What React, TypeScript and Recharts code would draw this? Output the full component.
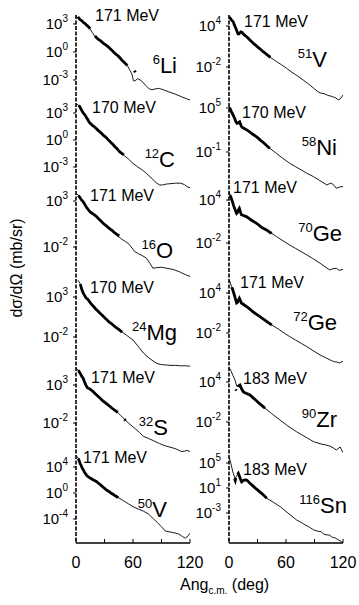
import React from 'react';
import { LineChart, Line, XAxis, YAxis } from 'recharts';

type P = [number, number];

// Each pair: [angle c.m. (deg), log10 of dσ/dΩ (mb/sr)]
const li6Theory: P[] = [[0,3.8],[3,3.6],[6,3.35],[10,3.0],[14,2.6],[17,2.1],[20,1.65],[24,1.3],[27,1.1],[31,0.75],[34,0.55],[38,0.15],[41,-0.15],[45,-0.5],[48,-0.85],[51,-1.15],[54,-1.45],[57,-2.0],[59,-2.4],[60.5,-3.1],[62,-3.1],[65,-2.85],[69,-3.1],[73,-3.55],[77,-3.95],[80,-4.05],[84,-3.95],[87,-3.9],[92,-4.05],[97,-4.25],[104,-4.5],[111,-4.8],[116,-5.0],[120,-5.15]];
const li6Exp: P[][] = [
  [[2,3.75],[3,3.62],[4,3.5],[5,3.42],[6,3.35],[7,3.25],[8,3.15],[9,3.08],[10,3.0],[11,2.9],[12,2.8],[13,2.7],[14,2.6],[15,2.5]],
  [[20,1.7],[21,1.6],[22,1.5],[23,1.4],[24,1.32],[26,1.2],[28,1.0],[30,0.85],[32,0.7],[34,0.55],[36,0.35],[38,0.15],[40,-0.05],[42,-0.25],[44,-0.4],[46,-0.6],[48,-0.85],[50,-1.05],[52,-1.25],[54,-1.45]],
  [[61.5,-2.0],[62.5,-2.2]],
];

const c12Theory: P[] = [[0,4.0],[2.4,3.89],[5,3.5],[9.5,2.78],[12,2.3],[14.7,1.86],[20,1.4],[25,0.92],[30,0.4],[36,-0.19],[41,-0.75],[46,-1.3],[50,-1.67],[55,-2.1],[60,-2.6],[65,-3.0],[70,-3.35],[74,-3.7],[80,-4.3],[85,-4.8],[88,-5.0],[91,-5.0],[95,-4.9],[100,-4.85],[105,-4.8],[110,-4.8],[114,-4.95],[117,-5.2],[120,-5.3]];
const c12Exp: P[][] = [
  [[3,3.85],[4,3.7],[5,3.5],[6,3.3],[7,3.1],[8,2.95],[9.5,2.78],[11,2.5],[12.5,2.25],[14,1.95],[15.5,1.8],[17,1.65],[19,1.5],[21,1.3],[23,1.1],[25,0.92],[27,0.72],[29,0.5],[31,0.35],[33,0.12],[35,-0.1],[37,-0.3],[39,-0.5],[41,-0.75],[43,-0.95],[45,-1.2],[47,-1.4],[49,-1.55],[50.5,-1.65]],
];

const o16Theory: P[] = [[0,3.8],[2.4,3.65],[5,3.3],[7.7,2.92],[10,2.5],[13,2.02],[16,1.75],[20,1.48],[25,0.95],[30.5,0.39],[35,0.0],[40,-0.45],[44.5,-0.85],[48,-1.15],[52,-1.4],[55,-1.6],[58,-2.0],[62,-2.5],[66,-2.75],[70,-2.95],[74,-3.2],[78,-3.8],[81,-4.3],[85,-4.25],[90,-4.2],[95,-4.3],[100,-4.4],[104,-4.5],[110,-4.75],[115,-5.0],[120,-5.2]];
const o16Exp: P[][] = [
  [[2.5,3.6],[4,3.4],[5.5,3.15],[7,3.0],[8.5,2.75],[10,2.5],[11.5,2.25],[13,2.05],[14.5,1.85],[16,1.72],[18,1.6],[20,1.45],[22,1.25],[24,1.05],[26,0.85],[28,0.65],[30,0.45],[32,0.3],[34,0.1],[36,-0.05],[38,-0.2],[40,-0.4],[42,-0.55],[44,-0.7],[45.5,-0.8]],
];

const mg24Theory: P[] = [[2,5.1],[4.2,4.7],[6,3.9],[7.7,3.46],[10,3.0],[13,2.63],[17,2.0],[21.8,1.38],[27,0.75],[32.3,0.13],[37,-0.3],[42,-0.75],[48,-1.33],[54,-1.85],[60,-2.38],[65,-3.1],[71,-4.0],[76,-4.55],[80,-4.9],[85,-5.3],[90,-5.45],[95,-5.5],[100,-5.55],[105,-5.55],[110,-5.6],[115,-5.6],[120,-5.65]];
const mg24Exp: P[][] = [
  [[4.5,4.6],[5.5,4.2],[6.5,3.8],[7.5,3.5],[9,3.2],[10.5,2.9],[12,2.75],[13.5,2.55],[15,2.3],[17,2.0],[19,1.75],[21,1.48],[23,1.25],[25,1.0],[27,0.78],[29,0.55],[31,0.3],[33,0.1],[35,-0.15],[37,-0.3],[39,-0.5],[41,-0.7],[43,-0.88],[45,-1.05],[47,-1.25],[48.5,-1.38]],
];

const s32Theory: P[] = [[0,5.2],[2.4,4.97],[5,4.4],[7.7,3.88],[11,2.9],[13,2.6],[16.5,2.34],[20,1.9],[23.5,1.46],[28,0.95],[34,0.37],[38,-0.05],[43,-0.51],[47,-1.0],[51.6,-1.55],[56,-2.1],[62,-2.7],[67,-3.25],[71,-3.75],[76,-4.0],[82,-4.35],[88,-4.7],[94,-5.0],[100,-5.2],[104,-5.35],[108,-5.55],[111,-5.75],[114,-5.7],[117,-5.6],[120,-5.75]];
const s32Exp: P[][] = [
  [[2.5,4.95],[3.5,4.7],[5,4.4],[6,4.15],[7.5,3.9],[9,3.4],[10.5,2.95],[12,2.65],[13.5,2.55],[15,2.45],[16.5,2.3],[18,2.15],[20,1.9],[22,1.65],[24,1.42],[26,1.2],[28,0.95],[30,0.75],[32,0.55],[34,0.37],[36,0.15],[38,-0.05],[40,-0.25],[42,-0.42],[44,-0.6]],
  [[51,-1.5],[52.2,-1.65]],
];

const v50Theory: P[] = [[0,5.8],[2.4,5.34],[5,4.4],[7.7,3.54],[10,3.0],[13,2.51],[17,2.1],[22,1.74],[27,1.1],[32,0.46],[37,-0.05],[43,-0.57],[50,-1.2],[55,-1.65],[60,-2.1],[66,-2.5],[71,-2.8],[76,-3.2],[81,-3.9],[86,-4.6],[90,-5.2],[94,-5.85],[99,-6.0],[104,-6.15],[108,-6.3],[112,-6.7],[115,-6.95],[118,-6.6],[120,-6.2]];
const v50Exp: P[][] = [
  [[2.5,5.3],[3.5,4.9],[4.5,4.5],[5.5,4.2],[6.5,3.85],[7.7,3.55],[9,3.2],[10.5,2.85],[12,2.6],[13.5,2.45],[15,2.3],[17,2.12],[19,1.95],[21,1.8],[23,1.6],[25,1.35],[27,1.1],[29,0.85],[31,0.6],[33,0.38],[35,0.2],[37,-0.05],[39,-0.2],[41,-0.4],[43,-0.58],[44.5,-0.72]],
];

const v51Theory: P[] = [[0,5.4],[2,5.0],[4.5,4.6],[6.5,3.9],[8,3.4],[9.8,2.7],[11.5,3.0],[13.3,3.15],[15.5,2.8],[18.6,2.43],[22,1.95],[25.6,1.46],[30,0.95],[36,0.24],[43,-0.55],[50,-1.2],[55,-1.65],[60.7,-2.2],[66,-2.75],[72,-3.3],[78,-3.9],[84,-4.5],[89,-5.1],[93,-5.55],[96,-5.8],[100,-5.9],[104,-6.15],[108,-6.3],[112,-6.5],[115,-6.8],[117,-6.7],[120,-6.1]];
const v51Exp: P[][] = [
  [[0.5,5.3],[1.5,5.1],[2.5,4.9],[3.5,4.75],[4.5,4.6],[5.5,4.2],[6.5,3.9],[7.5,3.55],[8.5,3.2],[9.5,2.85],[10.5,2.85],[11.5,3.0],[12.5,3.15],[13.5,3.1],[14.5,2.95],[15.5,2.8],[17,2.6],[18.6,2.43],[20,2.25],[22,1.95],[24,1.7],[26,1.42],[28,1.2],[30,0.95],[32,0.72],[34,0.48],[36,0.24],[38,0.05],[40,-0.2],[42,-0.42],[43.5,-0.58]],
];

const ni58Theory: P[] = [[0,5.2],[2,4.7],[4.5,4.0],[6.5,3.4],[8,2.9],[9.5,2.95],[10.9,3.13],[12,2.8],[13.3,2.45],[16,2.2],[18.6,2.0],[23,1.6],[29,1.08],[36,0.3],[43,-0.5],[50,-1.2],[57,-1.9],[64,-2.55],[70,-3.0],[76,-3.45],[82,-3.9],[89,-4.37],[95,-4.85],[100,-5.25],[103,-5.5],[106,-5.3],[108,-5.27],[111,-5.6],[113,-5.95],[116,-5.8],[120,-5.7]];
const ni58Exp: P[][] = [
  [[0.5,5.05],[1.5,4.8],[2.5,4.5],[3.5,4.25],[4.5,4.0],[5.5,3.7],[6.5,3.4],[7.5,3.05],[8.5,2.9],[9.5,2.95],[10.5,3.08],[11.2,3.13],[12,2.85],[13,2.5],[14,2.35],[15,2.28],[16,2.2],[17.5,2.1],[19,1.98],[21,1.8],[23,1.6],[25,1.42],[27,1.25],[29,1.06],[31,0.85],[33,0.62],[35,0.4],[37,0.2],[39,-0.05],[41,-0.28],[43,-0.5]],
];

const ge70Theory: P[] = [[0,5.2],[2,4.4],[4.5,3.3],[6.5,2.6],[8,2.14],[9.5,2.5],[10.9,2.84],[12,2.3],[13.3,1.91],[16,1.8],[18.6,1.67],[23,1.25],[29,0.75],[35,0.1],[40,-0.2],[45,-0.65],[50,-1.1],[57,-1.7],[64,-2.28],[70,-2.75],[76,-3.2],[82,-3.67],[88,-4.15],[96,-4.83],[101,-5.3],[106,-5.76],[109,-5.6],[113,-5.53],[116,-5.8],[120,-5.7]];
const ge70Exp: P[][] = [
  [[1,4.7],[2,4.4],[3,4.0],[4,3.6],[5,3.15],[6,2.8],[7,2.45],[8,2.14],[9,2.3],[10,2.65],[10.9,2.84],[12,2.35],[13,1.95],[14.5,1.88],[16,1.8],[17.5,1.72],[19,1.62],[21,1.45],[23,1.25],[25,1.08],[27,0.92],[29,0.75],[31,0.55],[33,0.32],[35,0.12],[37,-0.02],[39,-0.15],[41,-0.3],[43,-0.5],[45,-0.65]],
];

const ge72Theory: P[] = [[0,6.0],[1,5.7],[2.5,5.0],[4.5,4.2],[6.5,3.2],[8,2.46],[9.5,2.8],[10.9,3.2],[12,2.8],[13.3,2.46],[16,2.2],[18.6,1.95],[25,1.2],[32.6,0.45],[39,-0.2],[45,-0.8],[52,-1.4],[58,-2.0],[64,-2.55],[70,-3.05],[76,-3.55],[82,-4.05],[89,-4.7],[96,-5.3],[103,-5.8],[108,-6.15],[111,-6.3],[114,-6.35],[116,-6.5],[119,-6.3],[120,-6.25]];
const ge72Exp: P[][] = [
  [[3,4.85],[4,4.45],[5,4.0],[6,3.5],[7,3.0],[8,2.5],[9,2.6],[10,2.95],[10.9,3.2],[12,2.85],[13,2.5],[14.5,2.35],[16,2.2],[17.5,2.05],[19,1.92],[21,1.7],[23,1.45],[25,1.2],[27,1.0],[29,0.8],[31,0.6],[33,0.42],[35,0.2],[37,0.02],[39,-0.2],[41,-0.4],[43,-0.6],[45,-0.8]],
];

const zr90Theory: P[] = [[0,6.2],[2,5.7],[4,5.0],[6.3,4.3],[8,3.4],[9.5,3.3],[11.6,3.55],[13,3.0],[15,2.55],[18,2.3],[22,2.05],[27,1.4],[32,0.75],[38,0.06],[45,-0.75],[53.7,-1.7],[62,-2.6],[71,-3.45],[80,-4.2],[89,-4.95],[97,-5.3],[102,-5.45],[106,-5.6],[110,-5.9],[113,-6.2],[117,-5.75],[120,-6.6]];
const zr90Exp: P[][] = [
  [[7,2.9],[7.8,2.7]],
  [[9.5,3.3],[10.5,3.45],[11.6,3.55],[12.5,3.25],[13.5,2.9],[15,2.55],[16.5,2.4],[18,2.3],[20,2.18],[22,2.05],[24,1.8],[26,1.55],[28,1.3],[30,1.05],[32,0.78],[34,0.55],[36,0.3],[38,0.06]],
];

const sn116Theory: P[] = [[0,6.0],[2,4.9],[4,3.6],[6.3,2.5],[8,2.9],[9.8,3.35],[11.5,2.7],[13.3,2.0],[16,2.2],[18.6,2.3],[22,1.8],[27,1.1],[33,0.3],[39.7,-0.65],[47,-1.3],[54,-2.0],[62,-3.0],[71,-4.1],[76,-4.5],[80,-4.9],[84,-5.2],[89,-5.7],[93,-5.9],[97,-6.0],[100,-6.4],[103,-6.5],[106,-6.55],[109,-6.9],[112,-7.0],[115,-7.3],[118.6,-7.6],[120,-7.7]];
const sn116Exp: P[][] = [
  [[5.8,2.5],[6.6,2.2],[7.2,2.6]],
  [[9,3.2],[9.8,3.35],[10.7,3.0],[11.5,2.7],[12.4,2.3],[13.3,2.0],[14.5,2.15],[16,2.25],[17.5,2.3],[18.6,2.28],[20,2.1],[22,1.75],[24,1.5],[26,1.22],[28,0.95],[30,0.7],[32,0.42],[34,0.18],[36,-0.08],[38,-0.38],[39.7,-0.65]],
];

const angleTicks = [0, 30, 60, 90, 120];

interface Panel {
  beam: string;
  mass: string;
  elem: string;
  theory: P[];
  exp: P[][];
  logRange: [number, number];
  tickExps: number[];
}

const leftPanels: Panel[] = [
  { beam: '171 MeV', mass: '6', elem: 'Li', theory: li6Theory, exp: li6Exp, logRange: [-5.47, 3.96], tickExps: [3, 0, -3] },
  { beam: '170 MeV', mass: '12', elem: 'C', theory: c12Theory, exp: c12Exp, logRange: [-5.67, 4.11], tickExps: [3, 0, -3] },
  { beam: '171 MeV', mass: '16', elem: 'O', theory: o16Theory, exp: o16Exp, logRange: [-5.48, 4.09], tickExps: [3, -2] },
  { beam: '170 MeV', mass: '24', elem: 'Mg', theory: mg24Theory, exp: mg24Exp, logRange: [-5.75, 5.25], tickExps: [3, -2] },
  { beam: '171 MeV', mass: '32', elem: 'S', theory: s32Theory, exp: s32Exp, logRange: [-6.2, 5.37], tickExps: [3, -2] },
  { beam: '171 MeV', mass: '50', elem: 'V', theory: v50Theory, exp: v50Exp, logRange: [-7.7, 5.85], tickExps: [4, 0, -4] },
];

const rightPanels: Panel[] = [
  { beam: '171 MeV', mass: '51', elem: 'V', theory: v51Theory, exp: v51Exp, logRange: [-7.27, 5.61], tickExps: [4, -2] },
  { beam: '170 MeV', mass: '58', elem: 'Ni', theory: ni58Theory, exp: ni58Exp, logRange: [-6.32, 5.68], tickExps: [5, -1] },
  { beam: '171 MeV', mass: '70', elem: 'Ge', theory: ge70Theory, exp: ge70Exp, logRange: [-7.02, 5.26], tickExps: [4, -2] },
  { beam: '171 MeV', mass: '72', elem: 'Ge', theory: ge72Theory, exp: ge72Exp, logRange: [-7.1, 6.1], tickExps: [4, -2] },
  { beam: '183 MeV', mass: '90', elem: 'Zr', theory: zr90Theory, exp: zr90Exp, logRange: [-6.95, 6.25], tickExps: [4, -2] },
  { beam: '183 MeV', mass: '116', elem: 'Sn', theory: sn116Theory, exp: sn116Exp, logRange: [-7.8, 6.28], tickExps: [5, 1, -3] },
];

// label anchor positions [beamX, beamBaseline, elemRightX, elemBaseline]
const leftLabelPos = [[95, 21, 177, 73], [92, 113, 175, 167], [90, 201, 173, 258], [90, 293, 177, 340], [91, 383, 168, 435], [83, 463, 167, 517]];
const rightLabelPos = [[244, 27, 327, 67], [242, 118, 337, 155], [233, 193, 342, 241], [240, 288, 337, 330], [243, 384, 337, 427], [243, 475, 347, 513]];

const FONT = '"Liberation Sans", Arial, Helvetica, sans-serif';
const TOP = 15;
const PANEL_H = 88;
const PAD_T = 10;
const PAD_R = 14;
const AXIS_H = 40;
const PLOT_W = 114;
const Y_W = 76;
const CHART_W = Y_W + PLOT_W + PAD_R;

const toRows = (pts: P[]) => pts.map(([a, l]) => ({ a, v: Math.pow(10, l) }));

function LogTick(props: any) {
  const { x, y, payload } = props;
  const e = Math.round(Math.log10(payload.value));
  return (
    <text x={x} y={y + 5} textAnchor="end" fontFamily={FONT} fontSize={15} fill="#000">
      10<tspan dy={-7} fontSize={10}>{e}</tspan>
    </text>
  );
}

function AngTick(props: any) {
  const { x, y, payload } = props;
  const show = payload.value % 60 === 0;
  return (
    <g>
      <line x1={x} x2={x} y1={y} y2={y - 4} stroke="#000" strokeWidth={1} />
      {show && (
        <text x={x} y={y + 25} textAnchor="middle" fontFamily={FONT} fontSize={16} fill="#000">
          {payload.value}
        </text>
      )}
    </g>
  );
}

function PanelChart({ p, left, index, last }: { p: Panel; left: number; index: number; last: boolean }) {
  const h = PAD_T + PANEL_H + (last ? AXIS_H : 0);
  return (
    <div style={{ position: 'absolute', left, top: TOP + index * PANEL_H - PAD_T, width: CHART_W, height: h }}>
      <LineChart width={CHART_W} height={h} margin={{ top: PAD_T, right: PAD_R, bottom: 0, left: 0 }}>
        <XAxis
          type="number"
          dataKey="a"
          domain={[0, 120]}
          ticks={angleTicks}
          allowDataOverflow
          hide={!last}
          height={AXIS_H}
          axisLine={{ stroke: '#000', strokeWidth: 1.5 }}
          tickLine={false}
          tickSize={0}
          tickMargin={0}
          tick={<AngTick />}
          interval={0}
        />
        <YAxis
          type="number"
          scale="log"
          domain={[Math.pow(10, p.logRange[0]), Math.pow(10, p.logRange[1])]}
          allowDataOverflow
          ticks={p.tickExps.map((e) => Math.pow(10, e))}
          interval={0}
          width={Y_W}
          axisLine={{ stroke: '#000', strokeWidth: 1.6, strokeDasharray: '4 1.5' }}
          tickLine={{ stroke: '#000', strokeWidth: 1 }}
          tickSize={3}
          tickMargin={5}
          tick={<LogTick />}
        />
        <Line data={toRows(p.theory)} dataKey="v" type="linear" stroke="#000" strokeWidth={0.9} dot={false} isAnimationActive={false} />
        {p.exp.map((seg, i) => (
          <Line key={i} data={toRows(seg)} dataKey="v" type="linear" stroke="#000" strokeWidth={2.8} dot={false} isAnimationActive={false} />
        ))}
      </LineChart>
    </div>
  );
}

function Labels({ panels, pos }: { panels: Panel[]; pos: number[][] }) {
  return (
    <>
      {panels.map((p, i) => {
        const [bx, by, ex, ey] = pos[i];
        return (
          <g key={i}>
            <text x={bx} y={by} fontFamily={FONT} fontSize={16} fill="#000">{p.beam}</text>
            <text x={ex} y={ey} textAnchor="end" fontFamily={FONT} fill="#000">
              <tspan fontSize={13} dy={-9}>{p.mass}</tspan>
              <tspan fontSize={22} dy={9}>{p.elem}</tspan>
            </text>
          </g>
        );
      })}
    </>
  );
}

export default function App() {
  return (
    <div style={{ position: 'absolute', left: 0, top: 0, width: 359, height: 605, background: '#fff' }}>
      {leftPanels.map((p, i) => (
        <PanelChart key={'l' + i} p={p} left={0} index={i} last={i === leftPanels.length - 1} />
      ))}
      {rightPanels.map((p, i) => (
        <PanelChart key={'r' + i} p={p} left={153} index={i} last={i === rightPanels.length - 1} />
      ))}
      <svg width={359} height={605} style={{ position: 'absolute', left: 0, top: 0, pointerEvents: 'none' }}>
        <Labels panels={leftPanels} pos={leftLabelPos} />
        <Labels panels={rightPanels} pos={rightLabelPos} />
        <text transform="translate(22,268) rotate(-90)" textAnchor="middle" fontFamily={FONT} fontSize={16} fill="#000">
          dσ/dΩ (mb/sr)
        </text>
        <text x={180} y={590} fontFamily={FONT} fontSize={16} fill="#000">
          Ang<tspan fontSize={10} dy={4}>c.m.</tspan><tspan dy={-4}> (deg)</tspan>
        </text>
      </svg>
    </div>
  );
}
